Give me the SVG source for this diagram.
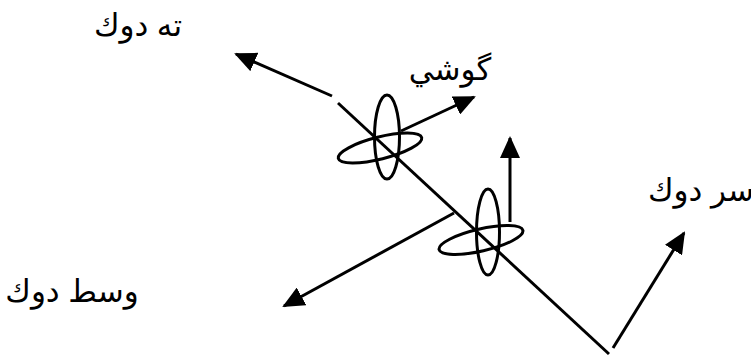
<svg xmlns="http://www.w3.org/2000/svg" width="751" height="356" viewBox="0 0 751 356">
<style>
.ln{stroke:#000;stroke-width:3;fill:none}
.el{stroke:#000;stroke-width:3;fill:none}
.tx{font-family:"Liberation Sans","DejaVu Sans",sans-serif;font-size:31px;fill:#000}
</style>
<defs>
<marker id="ah" markerUnits="userSpaceOnUse" markerWidth="22" markerHeight="20" refX="20" refY="10" orient="auto">
<path d="M0,0 L22,10 L0,20 Z" fill="#000"/>
</marker>
</defs>
<rect width="751" height="356" fill="#fff"/>
<g id="connectors">
<line class="ln" x1="338" y1="103" x2="609" y2="354"/>
<line class="ln" x1="332" y1="96" x2="236" y2="54" marker-end="url(#ah)"/>
<line class="ln" x1="401" y1="131" x2="474" y2="97" marker-end="url(#ah)"/>
<line class="ln" x1="510" y1="222" x2="510" y2="138" marker-end="url(#ah)"/>
<line class="ln" x1="454" y1="213" x2="284" y2="306" marker-end="url(#ah)"/>
<line class="ln" x1="613" y1="348" x2="684" y2="233" marker-end="url(#ah)"/>
</g>
<g id="joint1">
<ellipse class="el" cx="387" cy="137" rx="12.5" ry="42"/>
<ellipse class="el" cx="380" cy="148" rx="43" ry="11" transform="rotate(-14 380 148)"/>
</g>
<g id="joint2">
<ellipse class="el" cx="488" cy="232" rx="11.5" ry="43"/>
<ellipse class="el" cx="481" cy="240" rx="43" ry="11" transform="rotate(-13 481 240)"/>
</g>
<g id="label-te"><text class="tx" x="138" y="36" text-anchor="middle">ته دوك</text></g>
<g id="label-goshi"><text class="tx" x="450" y="80" text-anchor="middle">گوشي</text></g>
<g id="label-sar"><text class="tx" x="648" y="201" text-anchor="start" direction="ltr">سر دوك</text></g>
<g id="label-wasat"><text class="tx" x="72" y="302" text-anchor="middle">وسط دوك</text></g>
</svg>
